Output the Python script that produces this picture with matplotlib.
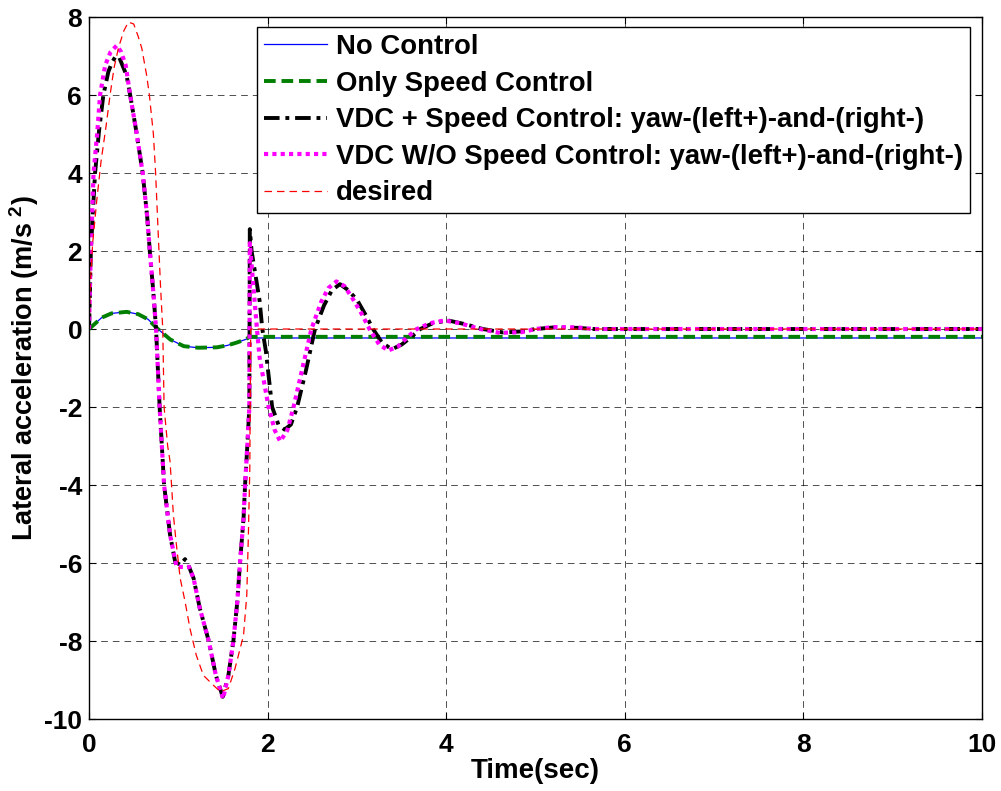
import numpy as np
import matplotlib
matplotlib.use("Agg")
import matplotlib.pyplot as plt

plt.rcParams['font.family'] = ['Liberation Sans', 'DejaVu Sans']
plt.rcParams['font.weight'] = 'bold'
plt.rcParams['axes.unicode_minus'] = False
plt.rcParams['mathtext.fontset'] = 'custom'
plt.rcParams['mathtext.rm'] = 'Liberation Sans:bold'
plt.rcParams['mathtext.bf'] = 'Liberation Sans:bold'
plt.rcParams['mathtext.default'] = 'bf'

# ---- data ----
t_nc = [0, 0.14, 0.25, 0.42, 0.55, 0.66, 0.77, 0.91, 1.06, 1.22, 1.43, 1.55, 1.65, 1.75, 1.80, 10]
y_nc = [0, 0.29, 0.40, 0.44, 0.38, 0.25, 0.0, -0.27, -0.44, -0.48, -0.47, -0.42, -0.35, -0.27, -0.23, -0.23]

t_sc = [0, 0.14, 0.25, 0.42, 0.55, 0.66, 0.77, 0.91, 1.06, 1.22, 1.43, 1.55, 1.65, 1.75, 1.80, 10]
y_sc = [0, 0.29, 0.40, 0.44, 0.38, 0.25, 0.0, -0.27, -0.44, -0.48, -0.47, -0.42, -0.35, -0.27, -0.20, -0.20]

t_vdc = [0, 0.01, 0.02, 0.04, 0.067, 0.11, 0.16, 0.216, 0.26, 0.30, 0.34, 0.42, 0.46, 0.53,
         0.60, 0.65, 0.68, 0.72, 0.75, 0.79, 0.84, 0.907, 0.963, 1.02, 1.075, 1.12, 1.17,
         1.24, 1.34, 1.42, 1.497, 1.56, 1.616, 1.66, 1.69, 1.73, 1.747, 1.773, 1.795, 1.80,
         1.82, 1.88, 1.91, 1.94, 1.98, 2.05, 2.12, 2.19, 2.26, 2.33, 2.43, 2.53, 2.63, 2.72,
         2.81, 2.90, 3.0, 3.1, 3.18, 3.28, 3.39, 3.5, 3.6, 3.71, 3.85, 4.02, 4.2, 4.41, 4.64,
         4.85, 5.0, 5.2, 5.47, 5.65, 10]
y_vdc = [0, 1.0, 2.0, 2.9, 4.0, 5.05, 6.0, 6.6, 6.85, 7.0, 6.95, 6.5, 6.0, 5.05,
         4.0, 2.9, 2.0, 0.93, 0.0, -2.0, -4.0, -5.28, -5.96, -6.05, -5.9, -6.1, -6.39,
         -7.16, -8.0, -8.88, -9.43, -8.88, -8.0, -6.99, -6.0, -4.85, -4.0, -2.96, -2.0, 2.56,
         2.0, 1.15, 0.72, 0.0, -0.57, -2.0, -2.45, -2.58, -2.45, -2.0, -1.05, 0.0, 0.6, 1.0,
         1.15, 1.0, 0.75, 0.35, 0.0, -0.35, -0.52, -0.4, -0.22, 0.0, 0.15, 0.22, 0.13, 0.0, -0.09,
         -0.06, 0.0, 0.04, 0.03, 0.0, 0.0]

t_wo = [0, 0.01, 0.02, 0.05, 0.09, 0.123, 0.18, 0.24, 0.31, 0.36, 0.41, 0.46, 0.53,
        0.60, 0.65, 0.68, 0.72, 0.75, 0.79, 0.84, 0.907, 0.98, 1.05, 1.12, 1.17,
        1.24, 1.34, 1.42, 1.50, 1.56, 1.616, 1.66, 1.69, 1.73, 1.747, 1.773, 1.795, 1.80,
        1.84, 1.88, 1.91, 2.01, 2.08, 2.14, 2.22, 2.29, 2.39, 2.49, 2.6, 2.68, 2.77, 2.86,
        2.96, 3.05, 3.14, 3.25, 3.35, 3.46, 3.56, 3.67, 3.82, 3.98, 4.15, 4.38, 4.6, 4.85,
        5.0, 5.2, 5.47, 5.65, 10]
y_wo = [0, 1.2, 2.0, 4.0, 5.0, 6.0, 6.76, 7.1, 7.27, 7.1, 6.76, 6.0, 5.05,
        4.0, 2.9, 2.0, 0.93, 0.0, -2.0, -4.0, -5.28, -6.1, -6.1, -6.1, -6.39,
        -7.16, -8.0, -8.88, -9.48, -8.88, -8.0, -6.99, -6.0, -4.85, -4.0, -2.96, -2.0, 2.2,
        1.1, 0.0, -0.74, -2.0, -2.6, -2.88, -2.6, -2.0, -1.0, 0.0, 0.7, 1.05, 1.22, 1.1,
        0.75, 0.4, 0.0, -0.4, -0.55, -0.45, -0.22, 0.0, 0.15, 0.22, 0.15, 0.0, -0.1, -0.08,
        0.0, 0.05, 0.04, 0.0, 0.0]

t_des = [0, 0.015, 0.04, 0.086, 0.134, 0.19, 0.235, 0.28, 0.33, 0.39, 0.44, 0.50, 0.55,
         0.59, 0.645, 0.675, 0.72, 0.745, 0.775, 0.80, 0.825, 0.84, 0.88, 0.907, 0.944,
         0.974, 1.02, 1.075, 1.13, 1.2, 1.28, 1.39, 1.47, 1.56, 1.635, 1.73, 1.766, 1.784,
         1.80, 1.81, 10]
y_des = [0, 1.2, 2.2, 3.3, 4.3, 5.2, 6.0, 6.7, 7.22, 7.65, 7.87, 7.82, 7.5,
         7.2, 6.5, 6.0, 5.0, 4.0, 2.4, 1.1, 0.0, -2.0, -3.0, -3.4, -4.76,
         -5.45, -6.39, -6.99, -7.68, -8.36, -8.88, -9.13, -9.3, -9.22, -8.7, -7.85, -6.82, -5.28,
         -3.57, 0.0, 0.0]

labels = ['No Control', 'Only Speed Control',
          'VDC + Speed Control: yaw-(left+)-and-(right-)',
          'VDC W/O Speed Control: yaw-(left+)-and-(right-)',
          'desired']

fig = plt.figure(figsize=(10.01, 7.91), dpi=100)
ax = fig.add_axes([0.089, 0.091, 0.892, 0.8875])

ax.plot(t_nc, y_nc, color='blue', lw=0.9, label=labels[0])
ax.plot(t_sc, y_sc, color='#007f00', lw=2.8, ls=(0, (3, 1.5)), label=labels[1])
ax.plot(t_vdc, y_vdc, color='black', lw=2.8, ls=(0, (4, 1.5, 1, 1.5)), label=labels[2])
ax.plot(t_wo, y_wo, color='magenta', lw=3.0, ls=(0, (1, 1)), label=labels[3])
ax.plot(t_des, y_des, color='red', lw=0.9, ls=(0, (6, 4)), label=labels[4])

ax.set_xlim(0, 10)
ax.set_ylim(-10, 8)
ax.set_xticks(np.arange(0, 11, 2))
ax.set_yticks(np.arange(-10, 9, 2))
ax.grid(True, color='black', ls=(0, (8, 6)), lw=0.6, alpha=0.8)
ax.tick_params(direction='in', top=True, right=True, length=5, width=0.8, labelsize=19)
ax.tick_params(axis='x', pad=10)
ax.tick_params(axis='y', pad=5)
for s in ax.spines.values():
    s.set_linewidth(1.0)

ax.set_xlabel('Time(sec)', fontsize=20, fontweight='bold', labelpad=1)
ax.set_ylabel('Lateral acceleration (m/s$^{\\ 2}$)', fontsize=19.5, fontweight='bold', labelpad=2)

leg = ax.legend(loc='upper left', bbox_to_anchor=(0.188, 0.986), borderaxespad=0,
                fontsize=19.8, handlelength=2.3, handletextpad=0.3, labelspacing=0.385,
                fancybox=False, framealpha=1, edgecolor='black', borderpad=0.26)
leg.get_frame().set_linewidth(1.0)
for txt in leg.get_texts():
    txt.set_fontweight('bold')

fig.savefig('out.png', dpi=100)
